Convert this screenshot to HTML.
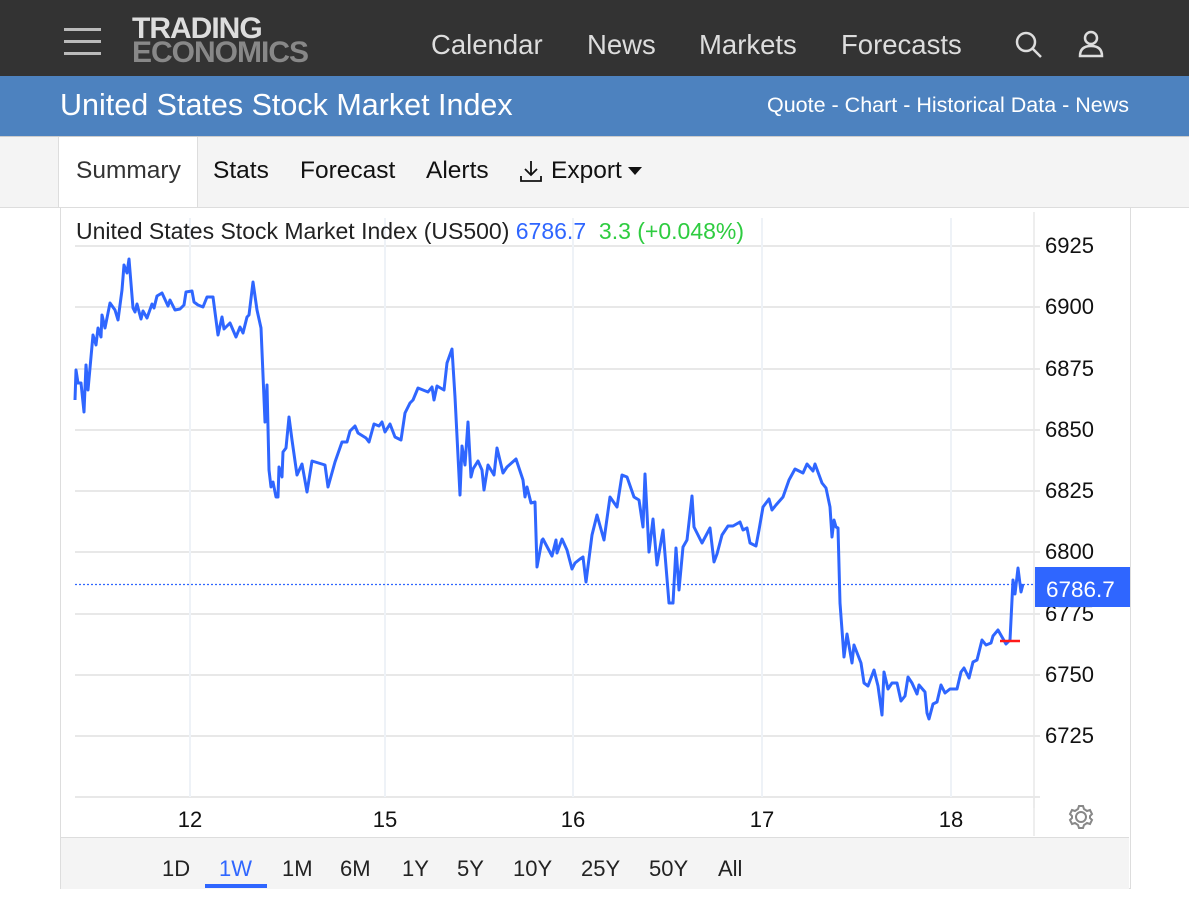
<!DOCTYPE html>
<html><head><meta charset="utf-8"><style>
body{margin:0;width:1189px;height:901px;background:#fff;font-family:"Liberation Sans",Arial,sans-serif;position:relative;overflow:hidden}
.a{position:absolute;white-space:nowrap}
</style></head><body>
<div class="a" style="left:0;top:0;width:1189px;height:76px;background:#333"></div>
<div class="a" style="left:64px;top:28px;width:37px;height:3px;background:#bbb"></div>
<div class="a" style="left:64px;top:40px;width:37px;height:3px;background:#bbb"></div>
<div class="a" style="left:64px;top:52px;width:37px;height:3px;background:#bbb"></div>
<div class="a" style="left:132px;top:16px;font-size:30px;font-weight:bold;color:#ddd;line-height:26px;letter-spacing:-1px">TRADING</div>
<div class="a" style="left:132px;top:40px;font-size:30px;font-weight:bold;color:#888;line-height:26px;letter-spacing:-1px">ECONOMICS</div>
<div class="a" style="left:431px;top:29px;font-size:27.5px;color:#ddd">Calendar</div>
<div class="a" style="left:587px;top:29px;font-size:27.5px;color:#ddd">News</div>
<div class="a" style="left:699px;top:29px;font-size:27.5px;color:#ddd">Markets</div>
<div class="a" style="left:841px;top:29px;font-size:27.5px;color:#ddd">Forecasts</div>
<svg class="a" style="left:1012px;top:28px" width="32" height="32"><circle cx="14" cy="14" r="9" fill="none" stroke="#ddd" stroke-width="2.5"/><line x1="21" y1="21" x2="29" y2="29" stroke="#ddd" stroke-width="2.5"/></svg>
<svg class="a" style="left:1076px;top:28px" width="32" height="32"><circle cx="15" cy="10" r="6" fill="none" stroke="#ddd" stroke-width="2.5"/><path d="M4 28 Q4 18 15 18 Q26 18 26 28 Z" fill="none" stroke="#ddd" stroke-width="2.5"/></svg>
<div class="a" style="left:0;top:76px;width:1189px;height:60px;background:#4d82bf"></div>
<div class="a" style="left:60px;top:88px;font-size:30.5px;color:#fff">United States Stock Market Index</div>
<div class="a" style="left:767px;top:93px;font-size:21.5px;color:#fff">Quote - Chart - Historical Data - News</div>
<div class="a" style="left:0;top:136px;width:1189px;height:70px;background:#f4f4f4;border-top:1px solid #ccc;border-bottom:1px solid #ddd"></div>
<div class="a" style="left:58px;top:137px;width:138px;height:70px;background:#fff;border-left:1px solid #ddd;border-right:1px solid #ddd"></div>
<div class="a" style="left:76px;top:157px;font-size:24.5px;color:#333">Summary</div>
<div class="a" style="left:213px;top:157px;font-size:24.5px;color:#111">Stats</div>
<div class="a" style="left:300px;top:157px;font-size:24.5px;color:#111">Forecast</div>
<div class="a" style="left:426px;top:157px;font-size:24.5px;color:#111">Alerts</div>
<svg class="a" style="left:518px;top:158px" width="26" height="26"><path d="M13 3 V17 M7 11 L13 17 L19 11 M3 18 V23 H23 V18" fill="none" stroke="#111" stroke-width="1.8"/></svg>
<div class="a" style="left:551px;top:157px;font-size:24.5px;color:#111">Export</div>
<svg class="a" style="left:627px;top:166px" width="16" height="10"><path d="M1 1 H15 L8 9 Z" fill="#111"/></svg>
<div class="a" style="left:60px;top:207px;width:1069px;height:681px;border-left:1px solid #ddd;border-right:1px solid #ddd;border-bottom:1px solid #ddd"></div>
<div class="a" style="left:61px;top:837px;width:1068px;height:51px;background:#f4f4f4;border-top:1px solid #ddd"></div>
<svg class="a" style="left:0;top:0" width="1189" height="901">
<g stroke="#e8e8e8" stroke-width="2">
<line x1="75" y1="246" x2="1040" y2="246"/><line x1="75" y1="307" x2="1040" y2="307"/><line x1="75" y1="369" x2="1040" y2="369"/><line x1="75" y1="430" x2="1040" y2="430"/><line x1="75" y1="491" x2="1040" y2="491"/><line x1="75" y1="552" x2="1040" y2="552"/><line x1="75" y1="614" x2="1040" y2="614"/><line x1="75" y1="675" x2="1040" y2="675"/><line x1="75" y1="736" x2="1040" y2="736"/><line x1="75" y1="797" x2="1040" y2="797"/>
</g>
<g stroke="#eef2f7" stroke-width="2"><line x1="190" y1="218" x2="190" y2="797"/><line x1="385" y1="218" x2="385" y2="797"/><line x1="573" y1="218" x2="573" y2="797"/><line x1="762" y1="218" x2="762" y2="797"/><line x1="951" y1="218" x2="951" y2="797"/></g>
<line x1="1034" y1="212" x2="1034" y2="808" stroke="#e8e8e8" stroke-width="1.5"/>
<line x1="1034" y1="797" x2="1034" y2="836" stroke="#e8e8e8" stroke-width="1.5"/>
<line x1="75" y1="584.5" x2="1035" y2="584.5" stroke="#2f66ff" stroke-width="1.2" stroke-dasharray="2,2"/>
<polyline fill="none" stroke="#2f66ff" stroke-width="3" stroke-linejoin="round" points="75,400 76,370 78,383 81,383 84,412 86,365 88,390 91,357 93,335 96,345 98,328 101,337 102,315 105,328 110,303 115,310 118,320 122,290 124,265 127,273 129,259 133,308 135,312 137,304 141,319 143,311 147,318 152,304 154,308 157,296 162,293 168,306 170,300 175,310 180,309 184,305 186,292 192,291 194,302 198,305 203,307 207,297 213,297 218,335 222,317 224,329 230,323 236,337 240,327 243,333 247,317 249,315 253,282 257,310 261,328 265,422 267,385 269,470 271,487 273,482 276,497 278,497 279,467 282,477 283,452 286,448 289,417 292,440 297,475 302,464 307,492 312,461 325,465 328,487 335,462 342,442 347,442 350,431 355,426 358,433 366,438 369,442 374,424 379,426 382,422 385,432 390,424 395,437 401,440 405,413 410,403 413,400 418,388 423,390 428,392 432,387 434,400 437,386 444,390 447,363 452,349 455,397 460,495 462,446 465,465 468,422 471,477 473,469 478,461 482,470 484,490 488,465 494,475 497,448 503,473 507,467 516,459 523,480 525,497 527,487 531,503 535,502 537,567 542,540 543,539 552,556 556,540 557,553 562,539 567,550 572,569 575,563 580,559 583,557 586,582 592,535 597,515 604,540 610,497 617,507 622,475 627,477 634,497 639,500 643,527 645,474 649,552 653,519 657,565 663,530 669,603 673,603 676,548 679,590 683,547 687,540 692,496 694,527 702,543 710,528 714,562 717,554 722,535 728,526 733,526 740,522 743,530 747,528 750,543 756,546 759,530 763,507 769,499 772,510 776,505 783,497 789,480 795,469 803,473 807,464 813,471 815,464 822,483 826,488 830,507 832,537 834,520 836,527 838,528 840,603 844,657 847,634 852,663 854,645 861,663 864,683 868,686 874,670 878,686 882,715 884,672 888,689 892,683 897,683 901,701 905,696 908,677 912,683 917,694 919,685 925,692 927,713 929,719 933,704 937,702 941,685 945,693 950,689 957,689 961,672 964,668 969,678 973,662 977,660 982,640 986,645 991,643 993,636 998,630 1006,644 1010,640 1013,580 1015,594 1018,568 1021,592 1023,584"/>
<line x1="1000" y1="641" x2="1020" y2="641" stroke="#ff1a1a" stroke-width="2.5"/>
<g font-size="22" fill="#111" font-family="Liberation Sans,Arial,sans-serif">
<text x="1045" y="253">6925</text><text x="1045" y="314">6900</text><text x="1045" y="376">6875</text><text x="1045" y="437">6850</text><text x="1045" y="498">6825</text><text x="1045" y="559">6800</text><text x="1045" y="621">6775</text><text x="1045" y="682">6750</text><text x="1045" y="743">6725</text>
<text x="190" y="827" text-anchor="middle">12</text><text x="385" y="827" text-anchor="middle">15</text><text x="573" y="827" text-anchor="middle">16</text><text x="762" y="827" text-anchor="middle">17</text><text x="951" y="827" text-anchor="middle">18</text>
</g>
<rect x="1035" y="567" width="95" height="40" fill="#2f66ff"/>
<text x="1046" y="597" font-size="22.5" fill="#fff" font-family="Liberation Sans,Arial,sans-serif">6786.7</text>
<g transform="translate(1081,817)" fill="none" stroke="#888" stroke-width="2"><circle r="5"/><path d="M-2,-11 L2,-11 L3,-8 L6,-6 L9,-7 L11,-3 L9,-1 L9,1 L11,3 L9,7 L6,6 L3,8 L2,11 L-2,11 L-3,8 L-6,6 L-9,7 L-11,3 L-9,1 L-9,-1 L-11,-3 L-9,-7 L-6,-6 L-3,-8 Z"/></g>
<g font-size="22" fill="#222" font-family="Liberation Sans,Arial,sans-serif">
<text x="162" y="876">1D</text><text x="219" y="876" fill="#2f66ff">1W</text><text x="282" y="876">1M</text><text x="340" y="876">6M</text><text x="402" y="876">1Y</text><text x="457" y="876">5Y</text><text x="513" y="876">10Y</text><text x="581" y="876">25Y</text><text x="649" y="876">50Y</text><text x="718" y="876">All</text>
</g>
<rect x="205" y="884" width="62" height="4" fill="#2f66ff"/>
</svg>
<div class="a" style="left:76px;top:218px;font-size:23px;color:#222">United States Stock Market Index (US500) <span style="color:#2f66ff">6786.7</span>&nbsp; <span style="color:#2ecc40">3.3 (+0.048%)</span></div>
</body></html>
